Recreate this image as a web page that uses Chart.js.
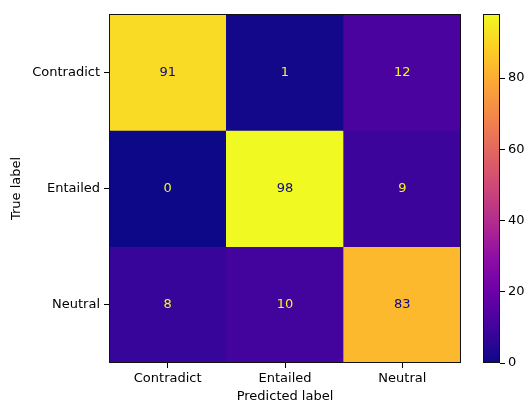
<!DOCTYPE html>
<html><head><meta charset="utf-8">
<script src="https://cdn.jsdelivr.net/npm/chart.js@4/dist/chart.umd.min.js"></script>
<style>
html,body{margin:0;padding:0;background:#fff;}
#wrap{position:relative;width:528px;height:401px;overflow:hidden;}
#m{position:absolute;left:0;top:0;width:475px;height:401px;}
#c{position:absolute;left:470px;top:0;width:58px;height:401px;}
</style></head><body>
<div id="wrap"><div id="m"><canvas id="cm"></canvas></div><div id="c"><canvas id="cb"></canvas></div></div>
<script>
// ---- data ----
const predictedLabels = ['Contradict', 'Entailed', 'Neutral'];
const trueLabels = ['Contradict', 'Entailed', 'Neutral'];
const rowContradict = [91, 1, 12];
const rowEntailed = [0, 98, 9];
const rowNeutral = [8, 10, 83];
const colorbarTicks = [0, 20, 40, 60, 80];
const colorMin = 0;
const colorMax = 98;

const rows = [rowContradict, rowEntailed, rowNeutral];

// plasma colormap stops
const PLASMA = ['#0d0887','#41049d','#6a00a8','#8f0da4','#b12a90','#cc4778','#e16462','#f2844b','#fca636','#fcce25','#f0f921'];
function hex(h){return [parseInt(h.slice(1,3),16),parseInt(h.slice(3,5),16),parseInt(h.slice(5,7),16)];}
function plasma(t){
  t = Math.max(0, Math.min(1, t));
  const n = PLASMA.length - 1;
  const k = Math.min(n - 1, Math.floor(t * n));
  const f = t * n - k;
  const a = hex(PLASMA[k]), b = hex(PLASMA[k + 1]);
  const c = a.map((v, i) => Math.round(v + (b[i] - v) * f));
  return `rgb(${c[0]},${c[1]},${c[2]})`;
}

Chart.defaults.font.family = "'DejaVu Sans'";
Chart.defaults.font.size = 13;
Chart.defaults.color = '#000';

const allVals = rows.flat();
const thresh = (Math.max(...allVals) + Math.min(...allVals)) / 2;

const datasets = rows.map((row, i) => ({
  data: row.map(() => [i, i + 1]),
  backgroundColor: row.map(v => plasma((v - colorMin) / (colorMax - colorMin))),
  borderWidth: 0,
  grouped: false,
  barPercentage: 1,
  categoryPercentage: 1
}));

const annot = {
  id: 'annot',
  afterDatasetsDraw(chart) {
    const {ctx, scales: {x, y}, chartArea: a} = chart;
    ctx.save();
    ctx.font = "13px 'DejaVu Sans'";
    ctx.textAlign = 'center';
    ctx.textBaseline = 'middle';
    rows.forEach((row, i) => row.forEach((v, j) => {
      ctx.fillStyle = v < thresh ? plasma(1) : plasma(0);
      ctx.fillText(String(v), x.getPixelForValue(j), y.getPixelForValue(i + 0.5));
    }));
    ctx.strokeStyle = '#111';
    ctx.lineWidth = 1;
    ctx.strokeRect(a.left + 0.5, a.top + 0.5, a.width - 1, a.height - 1);
    ctx.restore();
  }
};

new Chart(document.getElementById('cm'), {
  type: 'bar',
  data: {labels: predictedLabels, datasets},
  options: {
    responsive: true, maintainAspectRatio: false, animation: false,
    layout: {padding: {top: 14, right: 14, left: 0, bottom: 0}},
    plugins: {legend: {display: false}, tooltip: {enabled: false}},
    scales: {
      x: {
        type: 'category', offset: true,
        grid: {display: true, drawOnChartArea: false, drawTicks: true, tickLength: 5, color: '#000', offset: false},
        border: {display: false},
        ticks: {color: '#000', padding: 3, maxRotation: 0, autoSkip: false},
        title: {display: true, text: 'Predicted label', color: '#000', font: {size: 13, lineHeight: 0.7}, padding: {top: 0, bottom: 0}},
        afterFit(s) { s.height = 38; }
      },
      y: {
        type: 'linear', min: 0, max: 3, reverse: true,
        afterBuildTicks(s) { s.ticks = trueLabels.map((_, i) => ({value: i + 0.5})); },
        ticks: {color: '#000', padding: 4, callback: (v, i) => trueLabels[i]},
        grid: {display: true, drawOnChartArea: false, drawTicks: true, tickLength: 5, color: '#000'},
        border: {display: false},
        title: {display: true, text: 'True label', color: '#000', font: {size: 13}, padding: {top: 9, bottom: 0}},
        afterFit(s) { s.width = 109; }
      }
    }
  },
  plugins: [annot]
});

const outline = {
  id: 'outline',
  afterDatasetsDraw(chart) {
    const {ctx, chartArea: a} = chart;
    ctx.save();
    ctx.strokeStyle = '#111';
    ctx.lineWidth = 1;
    ctx.strokeRect(a.left + 0.5, a.top + 0.5, a.width - 1, a.height - 1);
    ctx.restore();
  }
};

new Chart(document.getElementById('cb'), {
  type: 'bar',
  data: {
    labels: [''],
    datasets: [{
      data: [[colorMin, colorMax]],
      backgroundColor: (c) => {
        const a = c.chart.chartArea;
        if (!a) return plasma(0.5);
        const g = c.chart.ctx.createLinearGradient(0, a.bottom, 0, a.top);
        PLASMA.forEach((col, k) => g.addColorStop(k / (PLASMA.length - 1), col));
        return g;
      },
      borderWidth: 0, barPercentage: 1, categoryPercentage: 1
    }]
  },
  options: {
    responsive: true, maintainAspectRatio: false, animation: false,
    layout: {padding: {left: 13, top: 14, bottom: 38, right: 0}},
    plugins: {legend: {display: false}, tooltip: {enabled: false}},
    scales: {
      x: {display: false},
      y: {
        position: 'right', min: colorMin, max: colorMax,
        afterBuildTicks(s) { s.ticks = colorbarTicks.map(v => ({value: v})); },
        ticks: {color: '#000', padding: 3},
        grid: {display: true, drawOnChartArea: false, drawTicks: true, tickLength: 5, color: '#000'},
        border: {display: false},
        afterFit(s) { s.width = 28; }
      }
    }
  },
  plugins: [outline]
});
</script>
</body></html>
